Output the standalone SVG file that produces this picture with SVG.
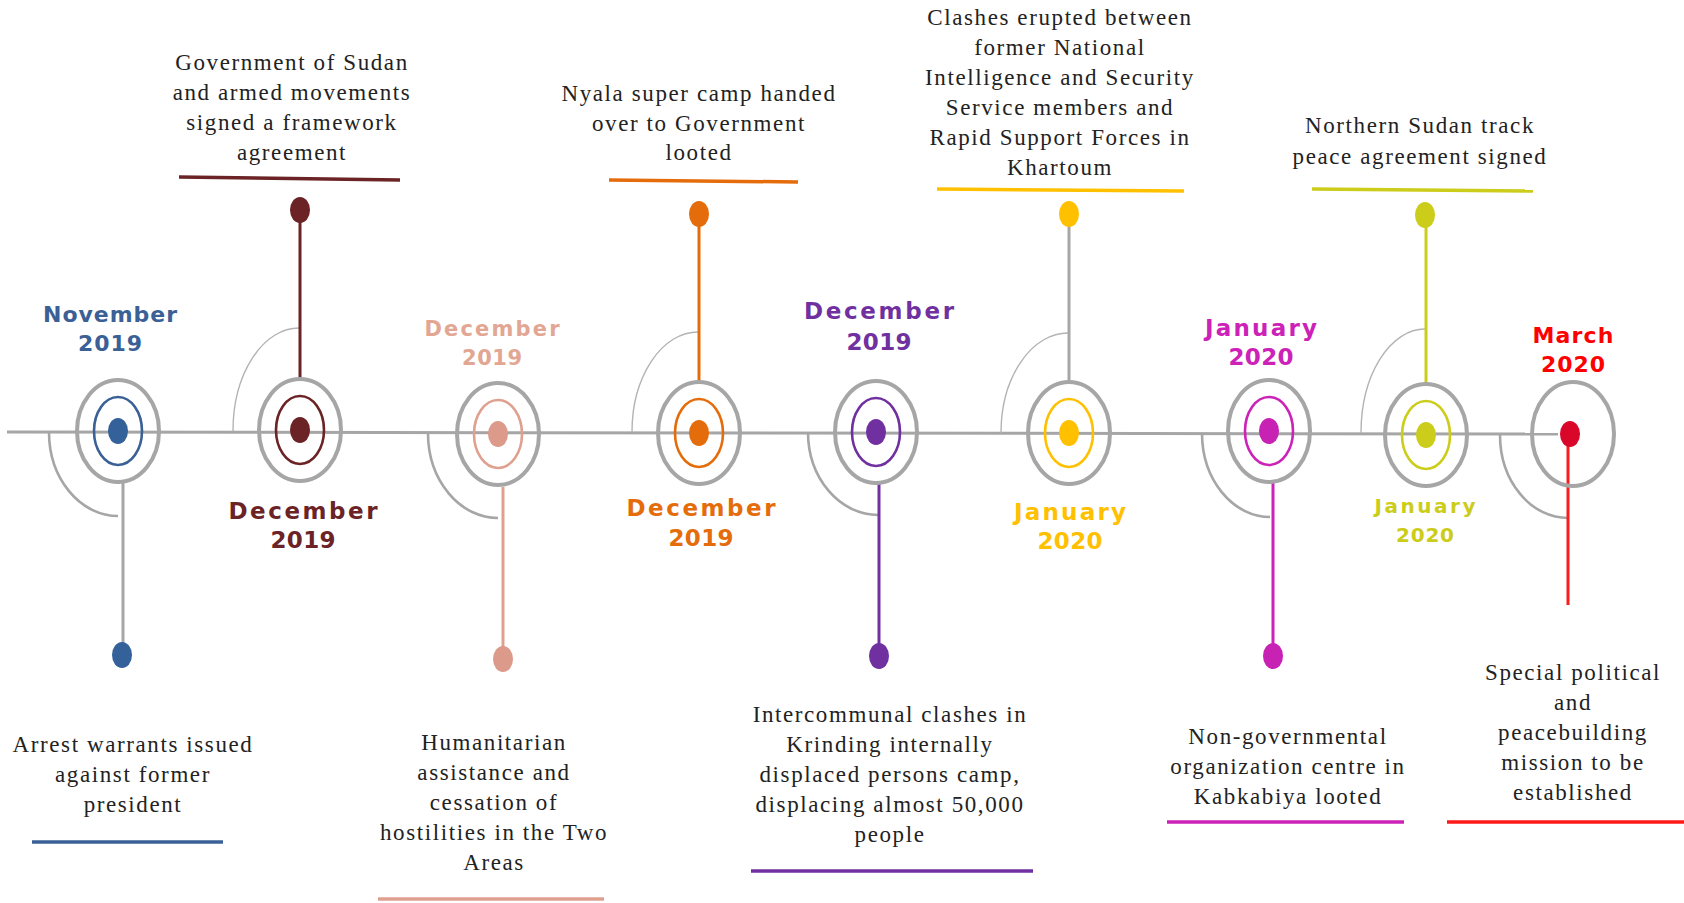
<svg xmlns="http://www.w3.org/2000/svg" width="1684" height="903" viewBox="0 0 1684 903">
<style>
.bg{fill:#fff}
.tl{stroke:#a6a6a6;stroke-width:3;fill:none}
.arcB{stroke:#a6a6a6;stroke-width:2.6;fill:none}
.arcT{stroke:#b3b3b3;stroke-width:1.4;fill:none}
.outer{stroke:#a6a6a6;stroke-width:4;fill:none}
.inner{stroke-width:2.6;fill:none}
.stem{stroke-width:3;fill:none}
.bar{stroke-width:3.5;fill:none}
.desc{font-family:"Liberation Serif","Times New Roman",serif;font-size:23px;letter-spacing:1.6px;fill:#222;text-anchor:middle}
.date{font-family:"DejaVu Sans",Verdana,sans-serif;font-weight:bold;font-size:22px;text-anchor:middle}
</style>
<rect class="bg" x="0" y="0" width="1684" height="903"/>

<g id="connectors">
  <path class="tl" d="M7,432 L1558,434"/>
  <path class="arcB" d="M49,432 A69,84 0 0 0 118,516"/>
  <path class="arcT" d="M233,431 A66,103 0 0 1 299,328"/>
  <path class="arcB" d="M428,433 A70,85 0 0 0 498,518"/>
  <path class="arcT" d="M632,432 A66,100 0 0 1 698,332"/>
  <path class="arcB" d="M808,432 A70,83 0 0 0 878,515"/>
  <path class="arcT" d="M1001,433 A67,100 0 0 1 1068,333"/>
  <path class="arcB" d="M1202,433 A68,84 0 0 0 1270,517"/>
  <path class="arcT" d="M1361,433 A64,104 0 0 1 1425,329"/>
  <path class="arcB" d="M1500,435 A68,83 0 0 0 1568,518"/>
  <path class="stem" stroke="#a6a6a6" d="M123,483 V648"/>
  <path class="stem" stroke="#6b2326" d="M300,380 V215"/>
  <path class="stem" stroke="#e0a090" d="M503,487 V652"/>
  <path class="stem" stroke="#e46c0a" d="M699,383 V220"/>
  <path class="stem" stroke="#7030a0" d="M879,484 V650"/>
  <path class="stem" stroke="#a6a6a6" d="M1069,383 V220"/>
  <path class="stem" stroke="#cc22b8" d="M1273,483 V650"/>
  <path class="stem" stroke="#cccc1a" d="M1426,385 V220"/>
  <path class="stem" stroke="#ff1a1a" d="M1568,440 V605"/>
</g>

<g id="node1">
  <ellipse class="outer" cx="118" cy="431" rx="41" ry="51"/>
  <ellipse class="inner" stroke="#3a6096" cx="118" cy="431" rx="24" ry="34"/>
  <ellipse fill="#34619a" cx="118" cy="431" rx="10" ry="13"/>
  <ellipse fill="#34619a" cx="122" cy="655" rx="10" ry="13"/>
  <text class="date" fill="#3a6096" x="110" y="322" textLength="134" lengthAdjust="spacing">November</text>
  <text class="date" fill="#3a6096" x="110" y="351" textLength="64" lengthAdjust="spacing">2019</text>
  <text class="desc" x="133" y="752">Arrest warrants issued</text>
  <text class="desc" x="133" y="782">against former</text>
  <text class="desc" x="133" y="812">president</text>
  <path class="bar" stroke="#3a6096" d="M32,842 H223"/>
</g>

<g id="node2">
  <ellipse class="outer" cx="300" cy="430" rx="41" ry="51"/>
  <ellipse class="inner" stroke="#6b2326" cx="300" cy="430" rx="24" ry="34"/>
  <ellipse fill="#6b2326" cx="300" cy="430" rx="10" ry="13"/>
  <ellipse fill="#6b2326" cx="300" cy="210" rx="10" ry="13"/>
  <text class="date" fill="#6b2326" x="303" y="519" style="font-size:23px" textLength="149" lengthAdjust="spacing">December</text>
  <text class="date" fill="#6b2326" x="303" y="548" style="font-size:23px" textLength="65" lengthAdjust="spacing">2019</text>
  <text class="desc" x="292" y="70">Government of Sudan</text>
  <text class="desc" x="292" y="100">and armed movements</text>
  <text class="desc" x="292" y="130">signed a framework</text>
  <text class="desc" x="292" y="160">agreement</text>
  <path class="bar" stroke="#6b2326" d="M179,177 L400,180"/>
</g>

<g id="node3">
  <ellipse class="outer" cx="498" cy="434" rx="41" ry="51"/>
  <ellipse class="inner" stroke="#e0a090" cx="498" cy="434" rx="24" ry="34"/>
  <ellipse fill="#dc9a8a" cx="498" cy="434" rx="10" ry="13"/>
  <ellipse fill="#dc9a8a" cx="503" cy="659" rx="10" ry="13"/>
  <text class="date" fill="#e2a692" x="492" y="336" style="font-size:21px" textLength="135" lengthAdjust="spacing">December</text>
  <text class="date" fill="#e2a692" x="492" y="365" style="font-size:21px" textLength="60" lengthAdjust="spacing">2019</text>
  <text class="desc" x="494" y="750">Humanitarian</text>
  <text class="desc" x="494" y="780">assistance and</text>
  <text class="desc" x="494" y="810">cessation of</text>
  <text class="desc" x="494" y="840">hostilities in the Two</text>
  <text class="desc" x="494" y="870">Areas</text>
  <path class="bar" stroke="#e0a090" d="M378,899 H604"/>
</g>

<g id="node4">
  <ellipse class="outer" cx="699" cy="433" rx="41" ry="51"/>
  <ellipse class="inner" stroke="#e46c0a" cx="699" cy="433" rx="24" ry="34"/>
  <ellipse fill="#e46c0a" cx="699" cy="433" rx="10" ry="13"/>
  <ellipse fill="#e46c0a" cx="699" cy="214" rx="10" ry="13"/>
  <text class="date" fill="#e46c0a" x="701" y="516" style="font-size:23px" textLength="149" lengthAdjust="spacing">December</text>
  <text class="date" fill="#e46c0a" x="701" y="546" style="font-size:23px" textLength="65" lengthAdjust="spacing">2019</text>
  <text class="desc" x="699" y="101">Nyala super camp handed</text>
  <text class="desc" x="699" y="131">over to Government</text>
  <text class="desc" x="699" y="160">looted</text>
  <path class="bar" stroke="#e46c0a" d="M609,180 L798,182"/>
</g>

<g id="node5">
  <ellipse class="outer" cx="876" cy="432" rx="41" ry="51"/>
  <ellipse class="inner" stroke="#7030a0" cx="876" cy="432" rx="24" ry="34"/>
  <ellipse fill="#7030a0" cx="876" cy="432" rx="10" ry="13"/>
  <ellipse fill="#7030a0" cx="879" cy="656" rx="10" ry="13"/>
  <text class="date" fill="#7030a0" x="879" y="319" style="font-size:23px" textLength="150" lengthAdjust="spacing">December</text>
  <text class="date" fill="#7030a0" x="879" y="350" style="font-size:23px" textLength="65" lengthAdjust="spacing">2019</text>
  <text class="desc" x="890" y="722">Intercommunal clashes in</text>
  <text class="desc" x="890" y="752">Krinding internally</text>
  <text class="desc" x="890" y="782">displaced persons camp,</text>
  <text class="desc" x="890" y="812">displacing almost 50,000</text>
  <text class="desc" x="890" y="842">people</text>
  <path class="bar" stroke="#7030a0" d="M751,871 H1033"/>
</g>

<g id="node6">
  <ellipse class="outer" cx="1069" cy="433" rx="41" ry="51"/>
  <ellipse class="inner" stroke="#ffc000" cx="1069" cy="433" rx="24" ry="34"/>
  <ellipse fill="#ffc000" cx="1069" cy="433" rx="10" ry="13"/>
  <ellipse fill="#ffc000" cx="1069" cy="214" rx="10" ry="13"/>
  <text class="date" fill="#ffc000" x="1070" y="520" style="font-size:23px" textLength="112" lengthAdjust="spacing">January</text>
  <text class="date" fill="#ffc000" x="1070" y="549" style="font-size:23px" textLength="65" lengthAdjust="spacing">2020</text>
  <text class="desc" x="1060" y="25">Clashes erupted between</text>
  <text class="desc" x="1060" y="55">former National</text>
  <text class="desc" x="1060" y="85">Intelligence and Security</text>
  <text class="desc" x="1060" y="115">Service members and</text>
  <text class="desc" x="1060" y="145">Rapid Support Forces in</text>
  <text class="desc" x="1060" y="175">Khartoum</text>
  <path class="bar" stroke="#ffc000" d="M937,189 L1184,191"/>
</g>

<g id="node7">
  <ellipse class="outer" cx="1269" cy="431" rx="41" ry="51"/>
  <ellipse class="inner" stroke="#cc22b8" cx="1269" cy="431" rx="24" ry="34"/>
  <ellipse fill="#c822b4" cx="1269" cy="431" rx="10" ry="13"/>
  <ellipse fill="#c822b4" cx="1273" cy="656" rx="10" ry="13"/>
  <text class="date" fill="#cc22b8" x="1261" y="336" style="font-size:23px" textLength="112" lengthAdjust="spacing">January</text>
  <text class="date" fill="#cc22b8" x="1261" y="365" style="font-size:23px" textLength="65" lengthAdjust="spacing">2020</text>
  <text class="desc" x="1288" y="744">Non-governmental</text>
  <text class="desc" x="1288" y="774">organization centre in</text>
  <text class="desc" x="1288" y="804">Kabkabiya looted</text>
  <path class="bar" stroke="#cc22b8" d="M1167,822 H1404"/>
</g>

<g id="node8">
  <ellipse class="outer" cx="1426" cy="435" rx="41" ry="51"/>
  <ellipse class="inner" stroke="#cccc1a" cx="1426" cy="435" rx="24" ry="34"/>
  <ellipse fill="#cccc1a" cx="1426" cy="435" rx="10" ry="13"/>
  <ellipse fill="#cccc1a" cx="1425" cy="215" rx="10" ry="13"/>
  <text class="date" fill="#cccc1a" x="1425" y="513" style="font-size:20px" textLength="101" lengthAdjust="spacing">January</text>
  <text class="date" fill="#cccc1a" x="1425" y="542" style="font-size:20px" textLength="58" lengthAdjust="spacing">2020</text>
  <text class="desc" x="1420" y="133">Northern Sudan track</text>
  <text class="desc" x="1420" y="164">peace agreement signed</text>
  <path class="bar" stroke="#cccc1a" d="M1312,189 L1533,191"/>
</g>

<g id="node9">
  <ellipse class="outer" cx="1573" cy="434" rx="41" ry="52"/>
  <ellipse fill="#d9082a" cx="1570" cy="434" rx="10" ry="13"/>
  <text class="date" fill="#ff0000" x="1573" y="343" textLength="81" lengthAdjust="spacing">March</text>
  <text class="date" fill="#ff0000" x="1573" y="372" textLength="64" lengthAdjust="spacing">2020</text>
  <text class="desc" x="1573" y="680">Special political</text>
  <text class="desc" x="1573" y="710">and</text>
  <text class="desc" x="1573" y="740">peacebuilding</text>
  <text class="desc" x="1573" y="770">mission to be</text>
  <text class="desc" x="1573" y="800">established</text>
  <path class="bar" stroke="#ff1a1a" d="M1447,822 H1684"/>
</g>
</svg>
